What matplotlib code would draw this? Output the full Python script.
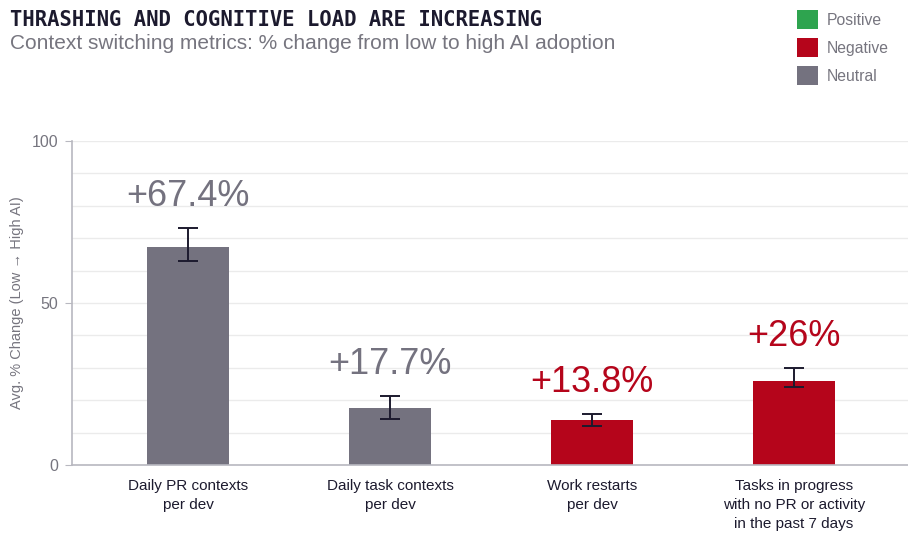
import numpy as np
import matplotlib.pyplot as plt
from matplotlib.patches import Patch

categories = ["Daily PR contexts\nper dev",
              "Daily task contexts\nper dev",
              "Work restarts\nper dev",
              "Tasks in progress\nwith no PR or activity\nin the past 7 days"]
values = [67.4, 17.7, 13.8, 26.0]
err_low = [63.0, 14.2, 12.1, 24.0]
err_high = [73.3, 21.3, 15.7, 30.0]
labels = ["+67.4%", "+17.7%", "+13.8%", "+26%"]
kinds = ["Neutral", "Neutral", "Negative", "Negative"]

colors = {"Positive": "#2ea44f", "Negative": "#b5051b", "Neutral": "#74727f"}
gray = "#76757f"

plt.rcParams['font.family'] = ['Liberation Sans', 'DejaVu Sans']

fig = plt.figure(figsize=(9.08, 5.35), dpi=100)
ax = fig.add_axes((0.0793, 0.1308, 0.9207, 0.6056))

x = np.arange(len(values))
vals = np.array(values)
yerr = np.array([vals - np.array(err_low), np.array(err_high) - vals])
bar_colors = [colors[k] for k in kinds]

ax.bar(x, vals, width=0.405, color=bar_colors, zorder=2)
ax.errorbar(x, vals, yerr=yerr, fmt='none', ecolor='#1c1a2e', elinewidth=1.4,
            capsize=7.5, capthick=1.4, zorder=3)

# percentage labels sit just above each error bar
for xi, top, lab, k in zip(x, err_high, labels, kinds):
    ax.annotate(lab, (xi, top), xytext=(0, 10), textcoords='offset points',
                ha='center', va='bottom', fontsize=26, color=colors[k])

ax.set_xlim(-0.574, 3.564)
ax.set_ylim(0, 100)
ax.set_yticks([0, 50, 100])
ax.set_yticks(np.arange(0, 101, 10), minor=True)
ax.grid(axis='y', which='both', color='#ebebeb', linewidth=1, zorder=0)
ax.set_axisbelow(True)

ax.set_xticks(x)
ax.set_xticklabels(categories, fontsize=11, color='#1c1a2e', linespacing=1.45)
ax.tick_params(axis='x', length=0, pad=10)
ax.tick_params(axis='y', which='major', length=5, color='#b8b8c0',
               labelsize=11.5, labelcolor=gray, pad=5)
ax.tick_params(axis='y', which='minor', length=0)

for side in ['top', 'right']:
    ax.spines[side].set_visible(False)
for side in ['left', 'bottom']:
    ax.spines[side].set_color('#b8b8c0')
    ax.spines[side].set_linewidth(1.2)

ax.set_ylabel("Avg. % Change (Low \u2192 High AI)", fontsize=10.5, color=gray)
ax.yaxis.set_label_coords(-0.058, 0.5)

fig.text(0.011, 0.963, "THRASHING AND COGNITIVE LOAD ARE INCREASING",
         family='DejaVu Sans Mono', fontsize=14.8, fontweight='bold',
         color='#1c1a2e', va='center', ha='left')
fig.text(0.011, 0.918, "Context switching metrics: % change from low to high AI adoption",
         fontsize=15, color=gray, va='center', ha='left')

handles = [Patch(facecolor=colors[k], edgecolor='none') for k in colors]
fig.legend(handles, list(colors), loc='upper left', bbox_to_anchor=(0.867, 1.0),
           frameon=False, fontsize=11.3, labelcolor=gray, handlelength=1.3,
           handleheight=1.45, handletextpad=0.55, labelspacing=0.6,
           borderaxespad=0.25)

fig.savefig("out.png", dpi=100)
